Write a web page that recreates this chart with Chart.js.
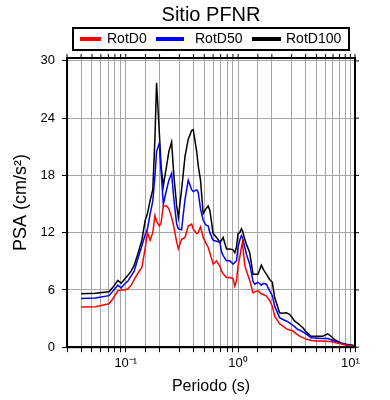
<!DOCTYPE html>
<html>
<head>
<meta charset="utf-8">
<script src="https://cdn.jsdelivr.net/npm/chart.js@4.4.1/dist/chart.umd.min.js"></script>
<style>
  html, body { margin: 0; padding: 0; background: #fff; }
  #wrap { width: 390px; height: 400px; }
</style>
</head>
<body>
<div id="wrap"><canvas id="psaChart"></canvas></div>
<script>
// periodos (s) y PSA (cm/s2)
const periods = [0.040, 0.0535, 0.071, 0.077, 0.085, 0.091, 0.097, 0.104, 0.112, 0.119,
  0.129, 0.139, 0.149, 0.156, 0.165, 0.174, 0.182, 0.188, 0.199, 0.206,
  0.216, 0.231, 0.242, 0.256, 0.268, 0.284, 0.294, 0.314, 0.337, 0.360,
  0.386, 0.399, 0.428, 0.442, 0.463, 0.489, 0.517, 0.542, 0.561, 0.600,
  0.643, 0.688, 0.712, 0.736, 0.789, 0.844, 0.903, 0.935, 0.968, 1.0,
  1.035, 1.072, 1.094, 1.147, 1.187, 1.27, 1.359, 1.407, 1.505, 1.613,
  1.689, 1.786, 1.911, 2.02, 2.118, 2.345, 2.508, 2.689, 2.875, 3.076,
  3.182, 3.406, 3.523, 3.768, 4.033, 4.475, 5.10, 5.68, 6.29, 6.65,
  7.22, 8.26, 9.22, 10.5, 10.9];
const rotD0 = [4.2, 4.25, 4.55, 5.1, 5.9, 6.0, 6.0, 6.1, 6.5, 7.1,
  7.8, 8.35, 10.4, 12.0, 11.2, 12.0, 13.8, 13.2, 12.7, 13.0,
  14.8, 14.8, 14.5, 13.6, 12.6, 11.0, 10.3, 11.3, 11.5, 12.7,
  12.9, 12.4, 11.9, 12.0, 12.6, 11.5, 10.9, 10.45, 9.9, 8.7,
  9.05, 8.5, 8.0, 7.7, 7.3, 7.3, 7.2, 6.4, 6.95, 8.5,
  9.4, 10.5, 11.0, 8.6, 8.0, 7.0, 5.7, 5.8, 5.9, 5.6,
  5.5, 5.35, 4.9, 4.3, 3.25, 2.45, 2.2, 1.95, 1.8, 1.7,
  1.55, 1.3, 1.15, 1.0, 0.85, 0.7, 0.65, 0.65, 0.6, 0.6,
  0.5, 0.35, 0.2, 0.1, 0.1];
const rotD50 = [5.1, 5.15, 5.4, 5.9, 6.5, 6.2, 6.6, 6.9, 7.5, 8.0,
  9.4, 10.6, 11.8, 12.4, 14.0, 15.3, 18.0, 20.5, 21.4, 18.5,
  15.0, 16.5, 17.5, 18.2, 15.5, 12.9, 12.4, 12.3, 15.5, 17.5,
  16.5, 16.3, 16.5, 16.2, 14.5, 13.3, 12.8, 12.7, 12.0, 11.2,
  11.1, 11.0, 10.0, 9.6, 9.05, 9.05, 8.7, 8.9, 9.05, 10.5,
  11.2, 11.7, 11.5, 10.5, 9.75, 8.7, 6.9, 6.6, 6.8, 6.5,
  6.7, 6.6, 5.9, 5.4, 4.3, 3.1, 2.9, 2.75, 2.55, 2.3,
  2.15, 1.85, 1.8, 1.6, 1.4, 1.0, 0.95, 0.9, 0.9, 0.8,
  0.65, 0.4, 0.25, 0.15, 0.1];
const rotD100 = [5.6, 5.65, 5.8, 6.3, 7.0, 6.7, 7.1, 7.5, 8.0, 8.6,
  9.9, 11.2, 13.3, 14.0, 15.4, 16.5, 22.0, 27.7, 22.5, 19.0,
  16.9, 19.0, 20.5, 21.5, 18.0, 14.8, 13.6, 16.5, 20.0, 21.8,
  22.7, 22.8, 20.5, 19.0, 17.5, 14.0, 14.5, 14.8, 14.3, 11.9,
  11.5, 11.0, 11.2, 11.5, 10.3, 10.3, 10.2, 9.9, 10.5, 11.9,
  12.0, 12.4, 12.2, 11.3, 10.8, 9.9, 7.65, 7.65, 7.65, 8.6,
  8.1, 7.65, 7.1, 6.8, 5.2, 3.6, 3.55, 3.6, 3.45, 3.0,
  2.75, 2.5, 2.35, 2.05, 1.6, 1.15, 1.15, 1.15, 1.4, 1.2,
  0.8, 0.45, 0.3, 0.2, 0.15];

const seriesNames = ['RotD0', 'RotD50', 'RotD100'];
const seriesColors = ['#ff0000', '#0000ff', '#000000'];
const xTickLabels = { 0.1: '10⁻¹', 1: '10⁰', 10: '10¹' };
const yTickStep = 6;

const FONT = "'Liberation Sans', Arial, Helvetica, sans-serif";
Chart.defaults.font.family = FONT;
Chart.defaults.color = '#000';

function toPoints(values) {
    return periods.map((p, i) => ({ x: p, y: values[i] }));
}

// marco completo, marcas arriba/derecha y leyenda con recuadro
const frameAndLegend = {
    id: 'frameAndLegend',
    afterDraw(chart) {
        const { ctx, chartArea: a, scales } = chart;
        ctx.save();
        ctx.strokeStyle = '#000';
        ctx.lineWidth = 1;
        ctx.beginPath();
        scales.x.ticks.forEach(t => {
            const px = scales.x.getPixelForValue(t.value);
            ctx.moveTo(px, a.top);
            ctx.lineTo(px, a.top - 4);
        });
        scales.y.ticks.forEach(t => {
            const py = scales.y.getPixelForValue(t.value);
            ctx.moveTo(a.right, py);
            ctx.lineTo(a.right + 4, py);
        });
        ctx.stroke();

        ctx.lineWidth = 2;
        ctx.strokeRect(a.left, a.top, a.right - a.left, a.bottom - a.top);

        // leyenda
        ctx.lineWidth = 2;
        ctx.strokeRect(73, 28, 276, 22);
        const items = [
            { line: [80, 101], text: 107 },
            { line: [156, 184], text: 195 },
            { line: [252, 281], text: 286 }
        ];
        ctx.font = '14px ' + FONT;
        ctx.textBaseline = 'middle';
        ctx.textAlign = 'left';
        items.forEach((it, i) => {
            ctx.strokeStyle = seriesColors[i];
            ctx.lineWidth = 4;
            ctx.beginPath();
            ctx.moveTo(it.line[0], 39);
            ctx.lineTo(it.line[1], 39);
            ctx.stroke();
            ctx.fillStyle = '#000';
            ctx.fillText(seriesNames[i], it.text, 39.5);
        });
        ctx.restore();
    }
};

const ctx = document.getElementById('psaChart').getContext('2d');
const psaChart = new Chart(ctx, {
    type: 'line',
    data: {
        datasets: [
            { label: seriesNames[0], data: toPoints(rotD0), borderColor: seriesColors[0] },
            { label: seriesNames[1], data: toPoints(rotD50), borderColor: seriesColors[1] },
            { label: seriesNames[2], data: toPoints(rotD100), borderColor: seriesColors[2] }
        ].map(d => Object.assign(d, {
            borderWidth: 1.5,
            pointRadius: 0,
            tension: 0,
            fill: false
        }))
    },
    options: {
        responsive: true,
        maintainAspectRatio: false,
        animation: false,
        layout: {
            padding: { left: 10, right: 35, bottom: 4, top: 0 }
        },
        plugins: {
            legend: { display: false },
            tooltip: { enabled: false },
            title: {
                display: true,
                text: 'Sitio PFNR',
                fullSize: false,
                font: { size: 20, weight: 'normal' },
                color: '#000',
                padding: { top: 3, bottom: 31 }
            }
        },
        scales: {
            x: {
                type: 'logarithmic',
                min: 0.03,
                max: 11,
                grid: {
                    color: '#a6a6a6',
                    lineWidth: 1,
                    tickColor: '#000',
                    tickLength: 5
                },
                border: { color: '#000', width: 2 },
                ticks: {
                    autoSkip: false,
                    maxRotation: 0,
                    padding: 3,
                    font: { size: 13 },
                    callback: function (value) {
                        const key = Number(value.toPrecision(3));
                        return xTickLabels[key] || '';
                    }
                },
                title: {
                    display: true,
                    text: 'Periodo (s)',
                    font: { size: 16 },
                    padding: { top: 3, bottom: 0 }
                }
            },
            y: {
                min: 0,
                max: 30.3,
                grid: {
                    color: '#a6a6a6',
                    lineWidth: 1,
                    tickColor: '#000',
                    tickLength: 5
                },
                border: { color: '#000', width: 2 },
                ticks: {
                    stepSize: yTickStep,
                    includeBounds: false,
                    padding: 7,
                    font: { size: 13 }
                },
                title: {
                    display: true,
                    text: 'PSA (cm/s²)',
                    font: { size: 18 },
                    padding: { top: 0, bottom: 2 }
                }
            }
        }
    },
    plugins: [frameAndLegend]
});
</script>
</body>
</html>
